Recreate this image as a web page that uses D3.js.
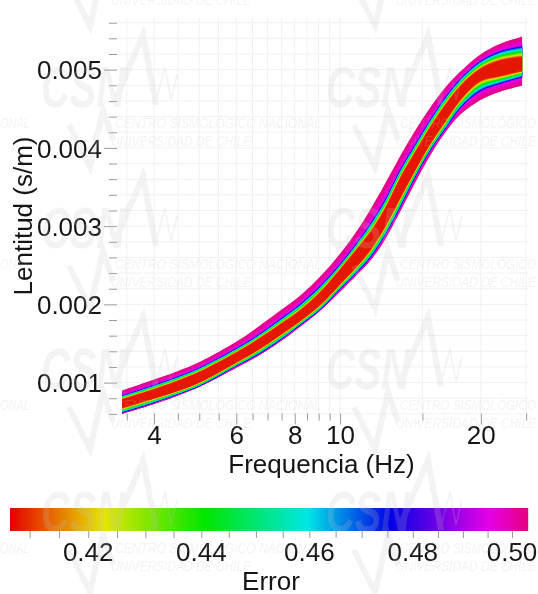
<!DOCTYPE html>
<html><head><meta charset="utf-8">
<script src="https://cdnjs.cloudflare.com/ajax/libs/d3/7.8.5/d3.min.js"></script>
<style>html,body{margin:0;padding:0;background:#fff}svg{display:block;filter:blur(.4px)}text{font-family:"Liberation Sans",Arial,sans-serif;fill:#151515}</style>
</head><body><svg id="c" width="538" height="594"></svg>
<script>
const frequency=[3.42,3.92,4.48,5.02,6.02,6.64,7.44,8.21,9.06,10,10.87,11.6,12.48,13.44,14.47,15.58,16.77,18.06,19.93,21.99,24.5];
const slowTop=[.000900,.001022,.001143,.001265,.001527,.001700,.001917,.002109,.002352,.002646,.002940,.003209,.003541,.003893,.004219,.004513,.004769,.004973,.005191,.005331,.005421];
const slowBlueUp=[.000830,.000945,.001067,.001188,.001437,.001591,.001802,.001994,.002224,.002505,.002780,.003017,.003324,.003707,.004033,.004347,.004634,.004871,.005101,.005229,.005293];
const slowRedUp=[.000785,.000894,.001015,.001137,.001386,.001540,.001738,.001917,.002147,.002441,.002703,.002914,.003215,.003605,.003937,.004257,.004538,.004781,.005005,.005114,.005159];
const slowRedLow=[.000676,.000785,.000894,.001009,.001265,.001412,.001610,.001789,.001994,.002262,.002492,.002697,.002998,.003362,.003720,.004053,.004340,.004615,.004858,.004922,.004986];
const slowBlueLow=[.000619,.000728,.000849,.000964,.001220,.001354,.001546,.001738,.001936,.002198,.002416,.002601,.002889,.003247,.003631,.003969,.004244,.004513,.004730,.004826,.004909];
const slowBottom=[.000600,.000708,.000830,.000951,.001194,.001329,.001521,.001712,.001917,.002160,.002377,.002556,.002825,.003183,.003554,.003899,.004193,.004423,.004609,.004718,.004794];
const xMajor=[4,6,8,10,20];
const xMinor=[3.5,4.5,5,5.5,6.5,7,7.5,8.5,9,9.5,15,25];
const yMajor=[.001,.002,.003,.004,.005];
const yMinor=[.0006,.0008,.0012,.0014,.0016,.0018,.0022,.0024,.0026,.0028,.0032,.0034,.0036,.0038,.0042,.0044,.0046,.0048,.0052,.0054,.0056];
const cbLabels=[.42,.44,.46,.48,.50];
const cbTicks=[.41,.415,.42,.425,.43,.435,.44,.445,.45,.455,.46,.465,.47,.475,.48,.485,.49,.495,.5];
const colorStops=[.4067,.4227,.4407,.4597,.4755,.4954,.5033];
const colorValues=["#e60000","#e6e600","#00e600","#00e6e6","#0000e6","#e600e6","#e60080"];
const wmCols=[43,328];const wmRows=[-76,65,206,347,490];

const svg=d3.select("#c");
const x=d3.scaleLog().domain([3.335,25.23]).range([117,528]);
const y=d3.scaleLinear().domain([.0006,.00566]).range([413.9,18]);
const cbX=d3.scaleLog().domain([.4067,.5033]).range([10,528]);
const color=d3.scaleLog().domain(colorStops).range(colorValues).interpolate(d3.interpolateRgb).clamp(true);
const FS=26,GRID="#f1f1f1",TICK="#9a9a9a",WM="#c4c4c4";

const g=svg.append("g");
g.selectAll("line.v").data(xMajor.concat(xMinor)).join("line").attr("x1",d=>x(d)).attr("x2",d=>x(d)).attr("y1",18).attr("y2",414).attr("stroke",GRID);
g.selectAll("line.h").data(yMajor.concat(yMinor)).join("line").attr("x1",117).attr("x2",528).attr("y1",d=>y(d)).attr("y2",d=>y(d)).attr("stroke",GRID);

const eRed=.408,eBlue=.4755,eEdge=.5033;
function contour(i,e,up){
  const edge=up?slowTop[i]:slowBottom[i],blue=up?slowBlueUp[i]:slowBlueLow[i],red=up?slowRedUp[i]:slowRedLow[i];
  if(e<=eRed) return red;
  if(e<=eBlue) return red+(blue-red)*(e-eRed)/(eBlue-eRed);
  const u=(e-eBlue)/(eEdge-eBlue);
  return blue+(edge-blue)*Math.pow(u,4);
}
const levels=d3.range(eEdge,eRed-.0005,-.001);
const band=svg.append("g");
levels.forEach(e=>{
  const a=d3.area().curve(d3.curveCatmullRom).x(d=>x(d)).y0((d,i)=>y(contour(i,e,true))).y1((d,i)=>y(contour(i,e,false)));
  band.append("path").attr("d",a(frequency)).attr("fill",color(e));
});

function style(sel){sel.select(".domain").remove();sel.selectAll("line").attr("stroke",TICK).attr("stroke-width",1);}
const ax1=svg.append("g").attr("transform","translate(0,413.5)").call(d3.axisBottom(x).tickValues(xMinor).tickSize(7).tickFormat(""));style(ax1);
const ax2=svg.append("g").attr("transform","translate(0,413.5)").call(d3.axisBottom(x).tickValues(xMajor).tickSize(11).tickPadding(2).tickFormat(d3.format("d")));style(ax2);
ax2.selectAll("text").attr("font-size",FS).attr("dy",0).attr("y",30.5);
const ay1=svg.append("g").attr("transform","translate(117,0)").call(d3.axisLeft(y).tickValues(yMinor).tickSize(8).tickFormat(""));style(ay1);
const ay2=svg.append("g").attr("transform","translate(117,0)").call(d3.axisLeft(y).tickValues(yMajor).tickSize(13).tickPadding(2).tickFormat(d3.format(".3f")));style(ay2);
ay2.selectAll("text").attr("font-size",FS).attr("dy",9.3).attr("x",-15);
svg.append("text").attr("x",321.5).attr("y",473).attr("text-anchor","middle").attr("font-size",FS).text("Frequencia (Hz)");
svg.append("text").attr("transform","translate(32,216) rotate(-90)").attr("text-anchor","middle").attr("font-size",FS).text("Lentitud (s/m)");

svg.append("g").selectAll("rect").data(d3.range(10,528)).join("rect").attr("x",d=>d).attr("y",508).attr("width",1.2).attr("height",23).attr("fill",d=>color(cbX.invert(d+.5)));
const cb=svg.append("g").attr("transform","translate(0,531)").call(d3.axisBottom(cbX).tickValues(cbTicks).tickSize(7).tickFormat(""));style(cb);
svg.append("g").selectAll("text").data(cbLabels).join("text").attr("x",d=>cbX(d)).attr("y",561).attr("text-anchor","middle").attr("font-size",FS).text(d3.format(".2f"));
svg.append("text").attr("x",271).attr("y",590).attr("text-anchor","middle").attr("font-size",FS).text("Error");

const wm=svg.append("g").attr("opacity",.2).style("pointer-events","none");
function wmText(sel,tx,ty,len,str){sel.append("text").attr("x",tx).attr("y",ty).attr("font-size",15).attr("font-style","italic").style("fill",WM).attr("textLength",len).attr("lengthAdjust","spacingAndGlyphs").text(str);}
wmRows.forEach(r=>{
  if(r>0) wmText(wm,0,r+63,30,"ONAL");
  wmCols.forEach((c,ci)=>{
    const t=wm.append("g").attr("transform",`translate(${c},${r})`);
    if(r>0){
      t.append("text").attr("x",-2).attr("y",42).attr("font-size",58).attr("font-weight","bold").attr("font-style","italic").style("fill",WM).attr("textLength",84).attr("lengthAdjust","spacingAndGlyphs").text("CSN");
      t.append("path").attr("d","M72,36L100,-30L113,40").attr("fill","none").attr("stroke",WM).attr("stroke-width",6);
      t.append("path").attr("d","M113,36L122,2L128,35L134,10").attr("fill","none").attr("stroke",WM).attr("stroke-width",1.6);
      if(ci===0) wmText(t,72,63,206,"CENTRO SISMOLÓGICO NACIONAL");
      else wmText(t,72,63,136,"CENTRO SISMOLÓGICO");
    }
    t.append("path").attr("d","M26,60L47,102L60,45L70,75").attr("fill","none").attr("stroke",WM).attr("stroke-width",6);
    wmText(t,68,81,140,"UNIVERSIDAD DE CHILE");
  });
});
</script></body></html>
